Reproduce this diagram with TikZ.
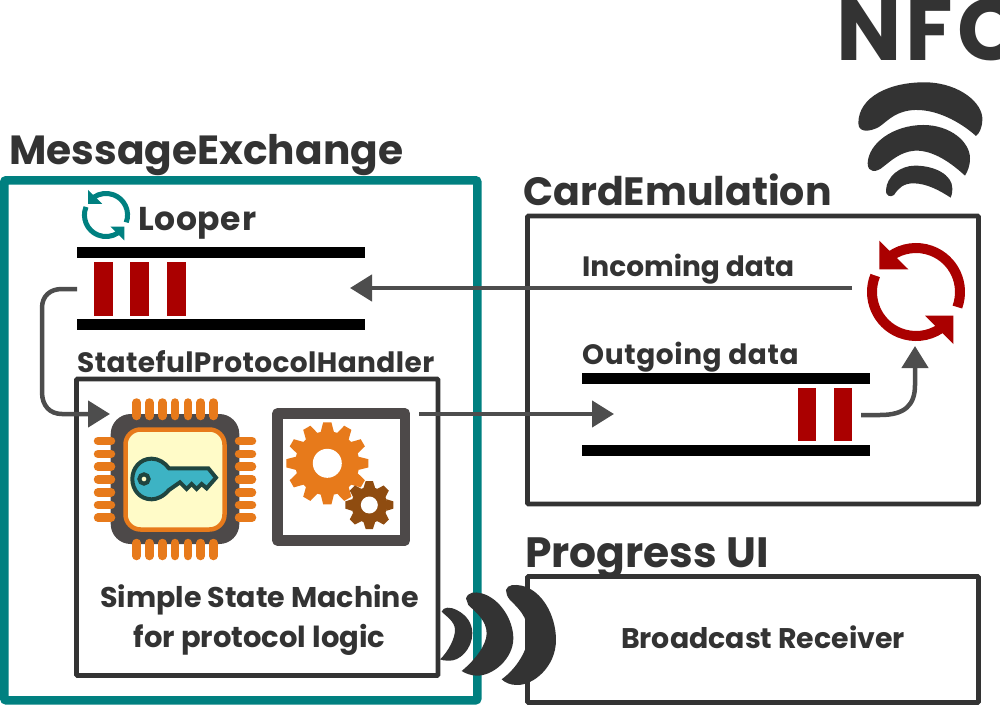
\documentclass[tikz,border=0pt]{standalone}
\usepackage{fontspec}
\setmainfont{Poppins}
\usetikzlibrary{arrows.meta}
\definecolor{ink}{HTML}{333333}
\definecolor{arrowc}{HTML}{4D4D4D}
\definecolor{teal1}{HTML}{008080}
\definecolor{red1}{HTML}{AA0000}
\definecolor{chipd}{HTML}{4D4949}
\definecolor{orange1}{HTML}{E77A1B}
\definecolor{brown1}{HTML}{8F4C10}
\definecolor{cream}{HTML}{FFFBC8}
\definecolor{keyb}{HTML}{3DB3C4}
\definecolor{keyd}{HTML}{1F4540}
\newcommand{\lsz}[2]{\bfseries\fontsize{#1}{#1}\selectfont\addfontfeature{LetterSpace=#2}}
\tikzset{
  lbl/.style={text=ink,anchor=base west,inner sep=0pt,font=\bfseries},
  framebox/.style={draw=ink,line width=4.8pt,inner sep=0pt,outer sep=0pt,rounded corners=1pt,anchor=north west},
  queue/.style={line width=11pt,black},
  bar/.style={fill=red1},
  conn/.style={draw=arrowc,line width=4.5pt,-{Triangle[length=22pt,width=26pt]}},
  pin/.style={draw=orange1,line width=8.5pt,line cap=round},
  waveshape/.style={fill=ink}
}
\newcommand{\syncicon}[5]{% x y scale lw colour
  \begin{scope}[shift={(#1,#2)},x=#3pt,y=-#3pt]
    \draw[#5,line width=#4pt] (20:44) arc[start angle=20,end angle=-125,radius=44];
    \draw[#5,line width=#4pt] (202:44) arc[start angle=202,end angle=56,radius=44];
    \fill[#5] (-36.7,-51.3) -- (-36.7,-22.7) -- (-7.7,-22.7) -- cycle;
    \fill[#5] (37.3,52) -- (37.3,23.7) -- (9,23.7) -- cycle;
  \end{scope}}
\newcommand{\gearicon}[7]{% x y router rroot n colour rhole
  \begin{scope}[shift={(#1,#2)}]
    \fill[#6] (0,0) circle[radius=#4];
    \foreach \k in {1,...,#5}{
      \pgfmathsetmacro{\ang}{360/#5*\k}
      \pgfmathsetmacro{\hw}{#3*3.14159/#5*0.62}
      \fill[#6,rotate=\ang] (-\hw,-#4+1) -- (-\hw*0.62,-#3) -- (\hw*0.62,-#3) -- (\hw,-#4+1) -- cycle;
    }
    \fill[white] (0,0) circle[radius=#7];
  \end{scope}}
\begin{document}
\begin{tikzpicture}[x=1pt,y=-1pt]
\useasboundingbox (0,0) rectangle (1000,706);
\clip (0,0) rectangle (1000,706);
\fill[white] (0,0) rectangle (1000,706);
% boxes
\node[framebox,draw=teal1,line width=8.6pt,rounded corners=2pt,minimum width=473pt,minimum height=520pt] (msg) at (4.3,180.3) {};
\node[framebox,minimum width=361.5pt,minimum height=296.5pt] (handler) at (76.5,379) {};
\node[framebox,minimum width=451pt,minimum height=288pt] (card) at (527.5,216) {};
\node[framebox,minimum width=451pt,minimum height=126pt] (progress) at (527.5,576.5) {};
% titles
\node[lbl,font=\lsz{40.7}{0}] (tmsg) at (9,164) {MessageExchange};
\node[lbl,font=\lsz{33}{2}] (tloop) at (138,230) {Looper};
\node[lbl,font=\lsz{28}{1.5}] (thandler) at (77,372) {StatefulProtocolHandler};
\node[lbl,font=\lsz{39.5}{0}] (tcard) at (523,205) {CardEmulation};
\node[lbl,font=\lsz{28}{0}] (tin) at (582,276) {Incoming data};
\node[lbl,font=\lsz{28}{2.2}] (tout) at (582,364) {Outgoing data};
\node[lbl,font=\lsz{42.4}{0}] (tprog) at (525,567) {Progress UI};
\node[lbl,font=\lsz{28.5}{0},anchor=base] (tsm1) at (259.5,607) {Simple State Machine};
\node[lbl,font=\lsz{29}{0},anchor=base] (tsm2) at (259.5,647) {for protocol logic};
\node[lbl,font=\lsz{28.4}{0},anchor=base] (tbr) at (763,648) {Broadcast Receiver};
\node[lbl,font=\lsz{87}{5}] (tnfc) at (836,61) {NFC};
% queues
\draw[queue] (77,252) -- (365,252);
\draw[queue] (77,324) -- (365,324);
\fill[bar] (94,262) rectangle (113,316);
\fill[bar] (130,262) rectangle (149,316);
\fill[bar] (167,262) rectangle (186,316);
\draw[queue] (582,378) -- (870,378);
\draw[queue] (582,450) -- (870,450);
\fill[bar] (798,388) rectangle (816,441);
\fill[bar] (834,388) rectangle (852,441);
% sync icons
\syncicon{916}{292}{1}{10}{red1}
\syncicon{106}{215}{0.49}{5}{teal1}
% chip
\fill[chipd,rounded corners=20pt] (110.7,414) rectangle (239.3,544);
\foreach \xx in {136.7,149.3,162.3,175,188,200.7,213.3}{
  \draw[pin] (\xx,402.5) -- (\xx,416);
  \draw[pin] (\xx,543) -- (\xx,556);
}
\foreach \yy in {441,454,466.7,479.3,492.3,505,517.7}{
  \draw[pin] (98,\yy) -- (111,\yy);
  \draw[pin] (239,\yy) -- (252,\yy);
}
\draw[orange1,fill=cream,line width=4.5pt,rounded corners=15pt] (125.5,429.5) rectangle (224.5,529.5);
% key
\begin{scope}[shift={(70,380)},x=0.3333pt,y=-0.3333pt]
  \draw[keyd,fill=keyb,line width=4pt,line join=miter]
    (297,265) -- (415,265) -- (438,293) -- (410,325) -- (395,312) -- (380,327) -- (365,312) -- (350,327) -- (330,307) -- (297,330)
    .. controls (280,350) and (260,358) .. (245,358)
    .. controls (210,358) and (187,330) .. (187,297)
    .. controls (187,265) and (210,236) .. (245,236)
    .. controls (265,236) and (285,248) .. (297,265) -- cycle;
  \draw[keyd,fill=cream,line width=4pt] (222,297) circle[radius=14];
\end{scope}
% gear box
\draw[chipd,line width=10.5pt,line join=round] (277.5,413.5) rectangle (405,540.5);
\gearicon{327.3}{463.3}{41}{32}{12}{orange1}{14.5}
\gearicon{369.3}{505}{24}{18}{8}{brown1}{8.5}
% NFC waves
\begin{scope}[shift={(820,0)},x=0.3333pt,y=-0.3333pt]
  \fill[waveshape] (115,370) .. controls (115,290) and (210,245) .. (320,247) .. controls (420,250) and (490,310) .. (487,360) .. controls (486,385) and (478,400) .. (468,408) .. controls (420,365) and (350,328) .. (285,330) .. controls (230,332) and (205,360) .. (185,375) .. controls (165,392) and (115,405) .. (115,370) -- cycle;
  \fill[waveshape] (143,490) .. controls (145,430) and (220,375) .. (310,375) .. controls (390,375) and (450,425) .. (450,475) .. controls (450,500) and (442,515) .. (435,527) .. controls (395,490) and (340,450) .. (285,452) .. controls (240,455) and (210,485) .. (190,500) .. controls (170,518) and (143,520) .. (143,490) -- cycle;
  \fill[waveshape] (198,570) .. controls (200,530) and (240,497) .. (285,497) .. controls (345,497) and (397,525) .. (397,565) .. controls (397,578) and (395,587) .. (392,593) .. controls (360,572) and (320,550) .. (280,550) .. controls (250,550) and (235,565) .. (222,585) .. controls (212,592) and (197,590) .. (198,570) -- cycle;
\end{scope}
% progress waves
\begin{scope}[shift={(420,570)},x=0.3333pt,y=-0.3333pt]
  \fill[waveshape] (65,125) .. controls (70,110) and (90,110) .. (110,120) .. controls (140,135) and (157,160) .. (157,190) .. controls (157,235) and (120,275) .. (85,272) .. controls (75,272) and (65,271) .. (60,268) .. controls (85,245) and (105,205) .. (105,180) .. controls (105,155) and (80,140) .. (65,125) -- cycle;
  \fill[waveshape] (138,85) .. controls (145,65) and (165,65) .. (185,70) .. controls (240,85) and (280,150) .. (280,205) .. controls (280,265) and (220,318) .. (170,317) .. controls (155,317) and (135,310) .. (125,303) .. controls (165,270) and (200,225) .. (200,190) .. controls (200,150) and (165,125) .. (145,105) -- cycle;
  \fill[waveshape] (258,60) .. controls (262,43) and (285,43) .. (305,47) .. controls (365,60) and (408,135) .. (408,210) .. controls (408,290) and (340,347) .. (290,345) .. controls (272,345) and (255,338) .. (245,328) .. controls (290,295) and (325,240) .. (325,190) .. controls (325,140) and (290,110) .. (270,90) .. controls (262,80) and (258,70) .. (258,60) -- cycle;
\end{scope}
% connector ends
\coordinate (syncL) at (852,288);
\coordinate (loopIn) at (350,288);
\coordinate (loopOut) at (77,289);
\coordinate (chipIn) at (110,414);
\coordinate (gearOut) at (419,414);
\coordinate (outIn) at (614,414);
\coordinate (barsOut) at (861,415);
\coordinate (syncB) at (915,346);
\draw[conn] (syncL) -- (loopIn);
\draw[conn] (loopOut) -- (62,289) .. controls (50,289) and (42,296) .. (42,308) -- (42,392) .. controls (42,406) and (50,414) .. (62,414) -- (chipIn);
\draw[conn] (gearOut) -- (outIn);
\draw[conn] (barsOut) -- (880,415) .. controls (905,415) and (915,405) .. (915,385) -- (syncB);
\end{tikzpicture}
\end{document}
